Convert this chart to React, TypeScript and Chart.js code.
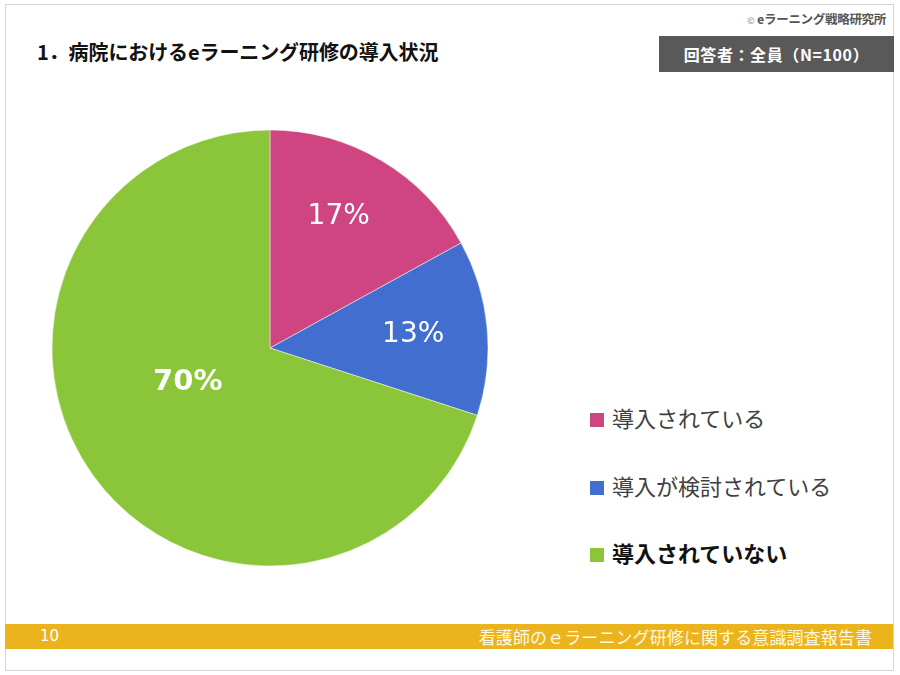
import React, { useEffect, useRef } from "react";
import { Chart, registerables } from "chart.js";

Chart.register(...registerables);

const categories = ["導入されている", "導入が検討されている", "導入されていない"];
const values = [17, 13, 70];
const valueLabels = ["17%", "13%", "70%"];
const colors = ["#CF4581", "#426ECF", "#8BC53A"];
const labelBold = [false, false, true];
// label placement (fraction of radius, angle shift in degrees)
const labelRadiusFrac = [0.68, 0.66, 0.41];
const labelAngleShift = [-3, 0, 13];

const labelPlugin = {
  id: "pctLabels",
  afterDatasetsDraw(chart: any) {
    const ctx = chart.ctx;
    const meta = chart.getDatasetMeta(0);
    meta.data.forEach((arc: any, i: number) => {
      const { x, y, startAngle, endAngle, outerRadius } = arc.getProps(
        ["x", "y", "startAngle", "endAngle", "outerRadius"],
        true
      );
      const mid = (startAngle + endAngle) / 2 + (labelAngleShift[i] * Math.PI) / 180;
      const r = outerRadius * labelRadiusFrac[i];
      const lx = x + Math.cos(mid) * r;
      const ly = y + Math.sin(mid) * r;
      ctx.save();
      ctx.fillStyle = "#FFFFFF";
      ctx.textAlign = "center";
      ctx.textBaseline = "middle";
      ctx.font = labelBold[i]
        ? "bold 29px 'DejaVu Sans', Verdana, sans-serif"
        : "28px 'DejaVu Sans', Verdana, sans-serif";
      ctx.fillText(valueLabels[i], lx, ly);
      ctx.restore();
    });
  },
};

const JP = "'Noto Sans CJK JP', 'Noto Sans', sans-serif";

export default function App() {
  const ref = useRef<HTMLCanvasElement | null>(null);
  useEffect(() => {
    if (!ref.current) return;
    const chart = new Chart(ref.current, {
      type: "pie",
      data: {
        labels: categories,
        datasets: [
          {
            data: values,
            backgroundColor: colors,
            borderColor: "rgba(255,255,255,0.6)",
            borderWidth: 0.8,
            hoverOffset: 0,
          },
        ],
      },
      options: {
        animation: false,
        responsive: false,
        radius: 218,
        layout: { padding: 0 },
        plugins: {
          legend: { display: false },
          tooltip: { enabled: false },
        },
      } as any,
      plugins: [labelPlugin],
    });
    return () => chart.destroy();
  }, []);

  return (
    <div
      style={{
        position: "absolute",
        left: 0,
        top: 0,
        width: 900,
        height: 675,
        background: "#FFFFFF",
        overflow: "hidden",
        fontFamily: JP,
      }}
    >
      <div
        style={{
          position: "absolute",
          left: 5,
          top: 4,
          width: 887,
          height: 665,
          border: "1px solid #D6D6D6",
        }}
      />
      <div
        style={{
          position: "absolute",
          right: 14,
          top: 9,
          fontSize: 12.5,
          fontWeight: "bold",
          color: "#555555",
          letterSpacing: -0.3,
          whiteSpace: "nowrap",
        }}
      >
        <span style={{ fontSize: 9, fontWeight: "normal", color: "#888" }}>©</span> eラーニング戦略研究所
      </div>
      <div
        style={{
          position: "absolute",
          left: 37,
          top: 40,
          fontSize: 20,
          fontWeight: "bold",
          color: "#111111",
          whiteSpace: "nowrap",
          lineHeight: "24px",
          letterSpacing: -0.1,
        }}
      >
        1．病院におけるeラーニング研修の導入状況
      </div>
      <div
        style={{
          position: "absolute",
          left: 659,
          top: 36,
          width: 235,
          height: 36,
          background: "#595959",
          color: "#FFFFFF",
          fontSize: 16,
          fontWeight: "bold",
          display: "flex",
          alignItems: "center",
          justifyContent: "center",
          whiteSpace: "nowrap",
          letterSpacing: 0.6,
        }}
      >
        回答者：全員（N=100）
      </div>
      <canvas
        ref={ref}
        width={440}
        height={440}
        style={{ position: "absolute", left: 50, top: 128, width: 440, height: 440 }}
      />
      {categories.map((c, i) => (
        <div
          key={c}
          style={{
            position: "absolute",
            left: 590,
            top: [420, 488, 555][i] - 16,
            height: 32,
            display: "flex",
            alignItems: "center",
            whiteSpace: "nowrap",
          }}
        >
          <span
            style={{
              display: "inline-block",
              width: 14,
              height: 14,
              background: colors[i],
              marginRight: 8,
            }}
          />
          <span
            style={{
              fontSize: 22,
              color: labelBold[i] ? "#111111" : "#404040",
              fontWeight: labelBold[i] ? "bold" : "normal",
              position: "relative",
              top: -3,
            }}
          >
            {c}
          </span>
        </div>
      ))}
      <div
        style={{
          position: "absolute",
          left: 5,
          top: 624,
          width: 888,
          height: 25,
          background: "#EBB41C",
        }}
      />
      <div
        style={{
          position: "absolute",
          left: 40,
          top: 624,
          height: 25,
          lineHeight: "25px",
          fontSize: 15,
          color: "#FFFFFF",
          fontFamily: "'DejaVu Sans', sans-serif",
        }}
      >
        10
      </div>
      <div
        style={{
          position: "absolute",
          right: 28,
          top: 624,
          height: 25,
          lineHeight: "25px",
          fontSize: 17,
          color: "#FFF8E0",
          whiteSpace: "nowrap",
          letterSpacing: 0.1,
        }}
      >
        看護師のｅラーニング研修に関する意識調査報告書
      </div>
    </div>
  );
}
